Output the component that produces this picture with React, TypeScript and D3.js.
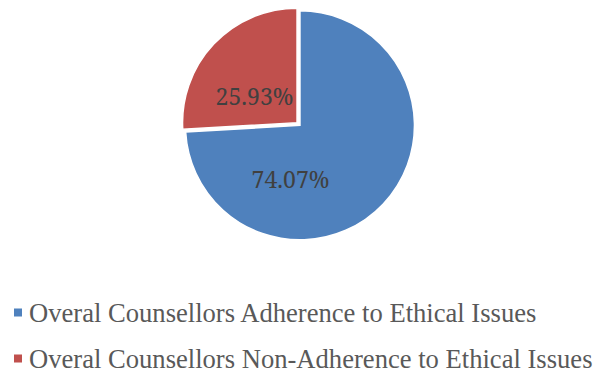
import React from "react";
import * as d3 from "d3";

const categories = [
  "Overal Counsellors Adherence to Ethical Issues",
  "Overal Counsellors Non-Adherence to Ethical Issues",
];
const values = [74.07, 25.93];
const labels = ["74.07%", "25.93%"];
const colors = ["#4F81BD", "#C0504D"];

export default function App() {
  const W = 596, H = 372;
  const cx = 298.5, cy = 124, r = 114.5, explode = 2;
  const pie = d3.pie<number>().sort(null).value((d) => d)(values);
  const arc = d3.arc<d3.PieArcDatum<number>>().innerRadius(0).outerRadius(r);
  const labelPos = [
    [-8, 58],
    [-44, -25],
  ];
  return (
    <svg width={W} height={H} style={{ position: "absolute", left: 0, top: 0 }}>
      <rect width={W} height={H} fill="#fff" />
      <g transform={`translate(${cx},${cy})`}>
        {pie.map((p, i) => {
          const mid = (p.startAngle + p.endAngle) / 2;
          const dx = Math.sin(mid) * explode;
          const dy = -Math.cos(mid) * explode;
          return (
            <path
              key={i}
              d={arc(p) || ""}
              transform={`translate(${dx},${dy})`}
              fill={colors[i]}
              stroke="#fff"
              strokeWidth={1.5}
            />
          );
        })}
        {pie.map((p, i) => (
          <text
            key={"l" + i}
            x={labelPos[i][0]}
            y={labelPos[i][1]}
            textAnchor="middle"
            fontFamily="Noto Serif"
            fontSize={23}
            fill="#404040"
            dominantBaseline="middle"
          >
            {labels[i]}
          </text>
        ))}
      </g>
      {categories.map((c, i) => (
        <g key={"g" + i} transform={`translate(0,${313 + i * 46})`}>
          <rect x={14} y={-4.5} width={8} height={8} fill={colors[i]} />
          <text
            x={29}
            y={8.5}
            fontFamily="Liberation Serif"
            fontSize={26.6}
            fill="#595959"
          >
            {c}
          </text>
        </g>
      ))}
    </svg>
  );
}
